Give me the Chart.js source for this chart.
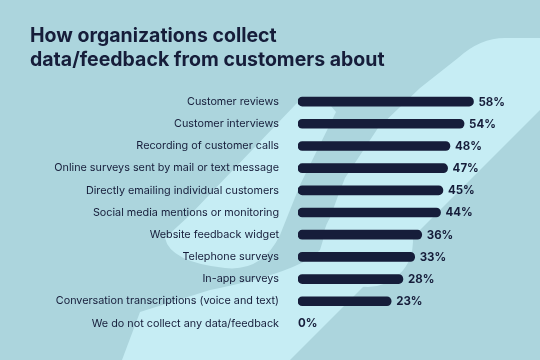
<!DOCTYPE html>
<html>
<head>
<meta charset="utf-8">
<script src="https://cdn.jsdelivr.net/npm/chart.js@4.4.1/dist/chart.umd.min.js"></script>
<style>
    html, body { margin: 0; padding: 0; background: #acd5dd; }
    #wrap { position: relative; width: 540px; height: 360px; }
</style>
</head>
<body>
<div id="wrap"><canvas id="chart" width="540" height="360"></canvas></div>
<script>
const categories = [
    'Customer reviews',
    'Customer interviews',
    'Recording of customer calls',
    'Online surveys sent by mail or text message',
    'Directly emailing individual customers',
    'Social media mentions or monitoring',
    'Website feedback widget',
    'Telephone surveys',
    'In-app surveys',
    'Conversation transcriptions (voice and text)',
    'We do not collect any data/feedback'
];
const shares = [58, 54, 48, 47, 45, 44, 36, 33, 28, 23, 0];
const titleLines = ['How organizations collect', 'data/feedback from customers about'];

const NAVY = '#161d3a';
const BASE_BG = '#acd5dd';
const LIGHT_BG = '#c6edf4';

// background logo shape + title
const backdrop = {
    id: 'backdrop',
    beforeDraw(chart) {
        const ctx = chart.ctx;
        ctx.save();
        ctx.fillStyle = BASE_BG;
        ctx.fillRect(0, 0, chart.width, chart.height);

        ctx.fillStyle = LIGHT_BG;
        // big lower-right band
        ctx.beginPath();
        ctx.moveTo(458, 58);
        ctx.quadraticCurveTo(480, 38, 505, 38);
        ctx.lineTo(540, 38);
        ctx.lineTo(540, 110);
        ctx.lineTo(290, 360);
        ctx.lineTo(122, 360);
        ctx.lineTo(140, 312);
        ctx.lineTo(210, 290);
        ctx.quadraticCurveTo(300, 272, 320, 250);
        ctx.quadraticCurveTo(330, 215, 345, 178);
        ctx.lineTo(378, 128);
        ctx.lineTo(420, 88);
        ctx.closePath();
        ctx.fill();

        // upper-left island
        ctx.beginPath();
        ctx.moveTo(296, 104);
        ctx.quadraticCurveTo(318, 88, 336, 112);
        ctx.lineTo(300, 185);
        ctx.lineTo(280, 235);
        ctx.quadraticCurveTo(262, 272, 225, 268);
        ctx.quadraticCurveTo(170, 262, 165, 238);
        ctx.lineTo(190, 215);
        ctx.closePath();
        ctx.fill();

        ctx.beginPath();
        ctx.arc(368, 242, 45, 0, Math.PI * 2);
        ctx.fill();
        ctx.restore();
    },
    afterDraw(chart) {
        const ctx = chart.ctx;
        ctx.save();
        ctx.fillStyle = NAVY;
        ctx.font = '700 19.5px Inter';
        ctx.textBaseline = 'alphabetic';
        ctx.textAlign = 'left';
        titleLines.forEach((line, i) => ctx.fillText(line, 30, 42 + i * 24));
        ctx.restore();
    }
};

// percent labels after each bar
const valueLabels = {
    id: 'valueLabels',
    afterDatasetsDraw(chart) {
        const ctx = chart.ctx;
        const meta = chart.getDatasetMeta(0);
        ctx.save();
        ctx.fillStyle = NAVY;
        ctx.font = '700 11.5px Inter';
        ctx.textBaseline = 'middle';
        ctx.textAlign = 'left';
        meta.data.forEach((bar, i) => {
            const v = shares[i];
            const x = v > 0 ? bar.x + 5 : bar.base;
            ctx.fillText(v + '%', x, bar.y + 0.5);
        });
        ctx.restore();
    }
};

const ctx = document.getElementById('chart').getContext('2d');
new Chart(ctx, {
    type: 'bar',
    data: {
        labels: categories,
        datasets: [{
            data: shares,
            base: -16.6,
            backgroundColor: shares.map(v => v > 0 ? NAVY : 'rgba(0,0,0,0)'),
            borderRadius: 5,
            borderSkipped: false,
            barThickness: 9
        }]
    },
    options: {
        indexAxis: 'y',
        responsive: false,
        animation: false,
        layout: { padding: { top: 90.5, bottom: 23.1, left: 0, right: 38.3 } },
        plugins: { legend: { display: false }, tooltip: { enabled: false } },
        scales: {
            x: { display: false, min: -16.6, max: 70 },
            y: {
                grid: { display: false, drawTicks: false },
                border: { display: false },
                ticks: { color: NAVY, padding: 19, font: { family: 'Inter', size: 10.8 } },
                afterFit(scale) { scale.width = 298; }
            }
        }
    },
    plugins: [backdrop, valueLabels]
});
</script>
</body>
</html>
